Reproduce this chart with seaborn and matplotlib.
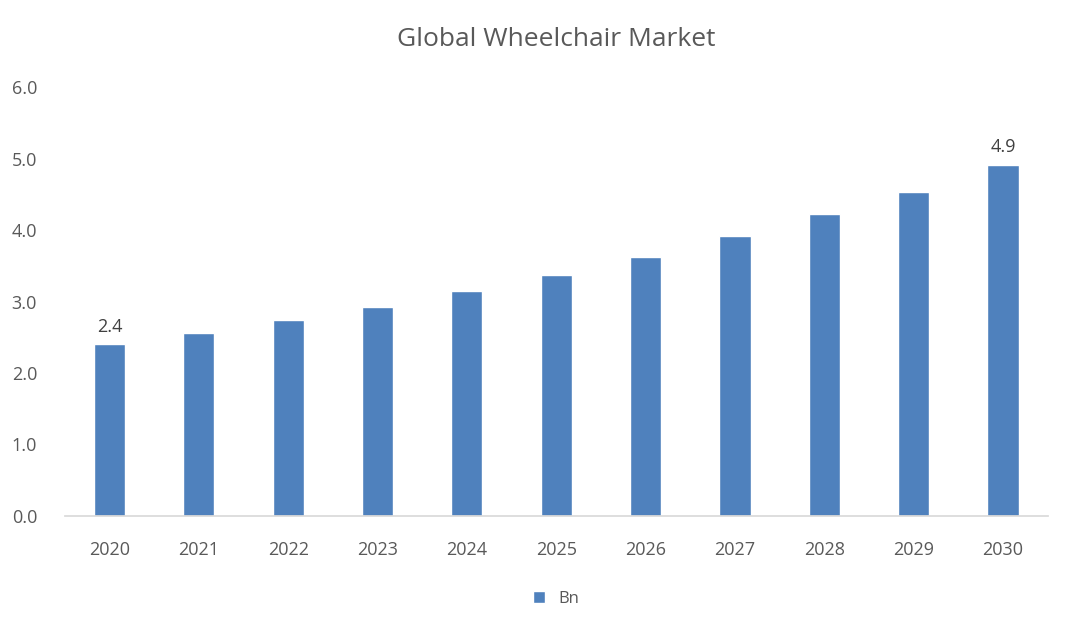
import matplotlib
matplotlib.use("Agg")
import matplotlib.pyplot as plt
import seaborn as sns
import pandas as pd

years = ["2020","2021","2022","2023","2024","2025","2026","2027","2028","2029","2030"]
values = [2.4, 2.56, 2.74, 2.92, 3.15, 3.37, 3.62, 3.92, 4.23, 4.54, 4.92]
labels = {0: "2.4", 10: "4.9"}

sns.set_theme(style="white")
plt.rcParams['font.family'] = ['Open Sans', 'DejaVu Sans']
df = pd.DataFrame({"Year": years, "Bn": values})

fig, ax = plt.subplots(figsize=(10.8, 6.25), dpi=100)
fig.subplots_adjust(left=0.06, right=0.97, top=0.86, bottom=0.175)
sns.barplot(data=df, x="Year", y="Bn", color="#4F81BD", width=0.35, ax=ax, label="Bn", saturation=1)
ax.set_ylim(0, 6)
ax.set_yticks([0,1,2,3,4,5,6])
ax.set_yticklabels([f"{v:.1f}" for v in range(7)], color="#595959", fontsize=13)
ax.tick_params(axis='x', labelsize=13, labelcolor="#595959", length=0, pad=18)
ax.tick_params(axis='y', length=0, pad=20)
ax.set_xlabel(""); ax.set_ylabel("")
for s in ["top", "right", "left"]:
    ax.spines[s].set_visible(False)
ax.spines["bottom"].set_color("#D9D9D9")
for i, t in labels.items():
    ax.text(i, values[i] + 0.12, t, ha="center", va="bottom", fontsize=13, color="#404040")
ax.set_title("Global Wheelchair Market", fontsize=19, color="#595959", pad=30)
ax.legend(loc="upper center", bbox_to_anchor=(0.5, -0.14), frameon=False, fontsize=12,
          handlelength=0.7, handleheight=0.7, labelcolor="#595959")
fig.savefig("out.png", dpi=100)
